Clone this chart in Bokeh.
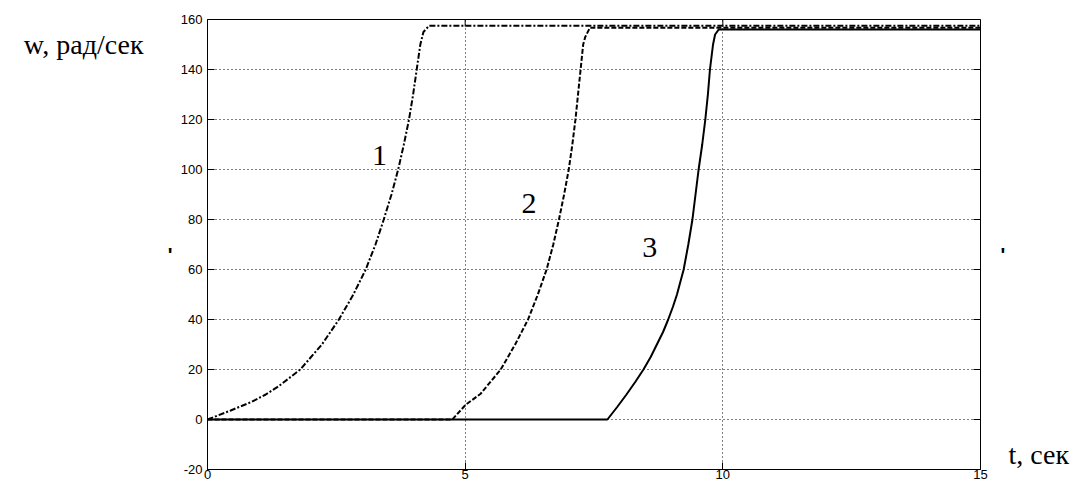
import math
from bokeh.plotting import figure
from bokeh.models import Range1d, FixedTicker, LinearAxis
from bokeh.core.properties import value
from bokeh.embed import file_html
from bokeh.resources import INLINE

# ---- data ----
t1 = [0, 0.45, 0.85, 1.13, 1.38, 1.80, 2.22, 2.55, 2.83, 3.07, 3.26, 3.42, 3.57,
      3.70, 3.81, 3.91, 3.99, 4.06, 4.13, 4.19, 4.30, 15]
w1 = [0, 3.6, 7, 10, 13.3, 20, 30, 40, 50, 60, 70, 80, 90,
      100, 110, 120, 130, 140, 150, 155, 157.5, 157.5]

t2 = [0, 4.75, 5.01, 5.30, 5.69, 5.97, 6.22, 6.41, 6.58, 6.71, 6.82, 6.92, 7.01, 7.08,
      7.14, 7.19, 7.24, 7.29, 7.33, 7.42, 15]
w2 = [0, 0, 5.9, 10.3, 20, 30, 40, 50, 60, 70, 80, 90, 100, 110,
      120, 130, 140, 150, 153, 156.7, 156.7]

t3 = [0, 7.76, 7.95, 8.13, 8.30, 8.46, 8.60, 8.72, 8.84, 8.94, 9.03, 9.11, 9.24, 9.33,
      9.41, 9.47, 9.53, 9.60, 9.66, 9.71, 9.75, 9.81, 9.85, 9.92, 15]
w3 = [0, 0, 5, 10, 15, 20, 25, 30, 35, 40, 45, 50, 60, 70,
      80, 90, 100, 110, 120, 130, 140, 150, 154, 156, 156]

x_ticks = [0, 5, 10, 15]
y_ticks = [-20, 0, 20, 40, 60, 80, 100, 120, 140, 160]
y_tick_labels = ["-20", "0", "20", "40", "60", "80", "100", "120", "140", "160"]

curve_names = ["1", "2", "3"]
curve_label_t = [3.34, 6.24, 8.58]
curve_label_w = [105.6, 86.3, 68.9]

y_title = "w, рад/сек"
x_title = "t, сек"
mark = "'"

# ---- figure ----
p = figure(width=1086, height=482, output_backend="svg", toolbar_location=None,
           x_range=Range1d(0, 15), y_range=Range1d(-20, 160),
           x_axis_location=None, y_axis_location=None,
           min_border_left=207, min_border_right=106, min_border_top=19, min_border_bottom=13)
p.background_fill_color = "white"
p.border_fill_color = "white"
p.outline_line_color = "black"
p.outline_line_width = 1

def style_axis(ax):
    ax.axis_line_color = "black"
    ax.axis_line_width = 1
    ax.major_tick_in = 7
    ax.major_tick_out = 0
    ax.minor_tick_line_color = None
    ax.major_tick_line_color = "black"
    ax.major_label_text_font = "Liberation Sans"
    ax.major_label_text_color = "black"
    ax.major_label_text_font_size = "13px"

def text_axis(ticks, labels, standoff, size, font="Liberation Serif", style="normal"):
    ax = LinearAxis(ticker=FixedTicker(ticks=ticks),
                    major_label_overrides=dict(zip(ticks, labels)))
    ax.axis_line_color = None
    ax.major_tick_line_color = None
    ax.minor_tick_line_color = None
    ax.major_tick_in = 0
    ax.major_tick_out = 0
    ax.major_label_standoff = standoff
    ax.major_label_text_font = font
    ax.major_label_text_font_style = style
    ax.major_label_text_font_size = size
    ax.major_label_text_color = "black"
    return ax

xb = LinearAxis(ticker=FixedTicker(ticks=x_ticks)); style_axis(xb)
yl = LinearAxis(ticker=FixedTicker(ticks=y_ticks),
                major_label_overrides=dict(zip(y_ticks, y_tick_labels))); style_axis(yl)
xb.major_label_standoff = 0
yl.major_label_standoff = 5
p.add_layout(xb, "below")
p.add_layout(yl, "left")

# outer text (axis titles and small marks) carried by label-only axes
p.add_layout(text_axis([66], [mark], 5, "20px", "Liberation Sans", "bold"), "left")
p.add_layout(text_axis([150], [y_title], 21, "28px"), "left")
p.add_layout(text_axis([66], [mark], 20, "20px", "Liberation Sans", "bold"), "right")
p.add_layout(text_axis([-14], [x_title], 0, "28px"), "right")

# inward tick marks on top and right edges
p.ray(x=x_ticks, y=[160] * len(x_ticks), length=7, length_units="screen",
      angle=-math.pi / 2, line_color="black", line_width=1)
p.ray(x=[15] * len(y_ticks), y=y_ticks, length=7, length_units="screen",
      angle=math.pi, line_color="black", line_width=1)

p.xgrid.ticker = FixedTicker(ticks=x_ticks)
p.ygrid.ticker = FixedTicker(ticks=y_ticks)
for g in (p.xgrid, p.ygrid):
    g.grid_line_color = "black"
    g.grid_line_dash = "1 3"
    g.grid_line_width = 1

p.line(t1, w1, line_color="black", line_width=2, line_dash="6 2 2 2")
p.line(t2, w2, line_color="black", line_width=2, line_dash="5 2")
p.line(t3, w3, line_color="black", line_width=2)

p.text(x=curve_label_t, y=curve_label_w, text=curve_names,
       text_font=value("Liberation Serif"), text_font_size="30px",
       text_align="center", text_baseline="middle", text_color="black")

open("out.html", "w").write(file_html(p, INLINE))
